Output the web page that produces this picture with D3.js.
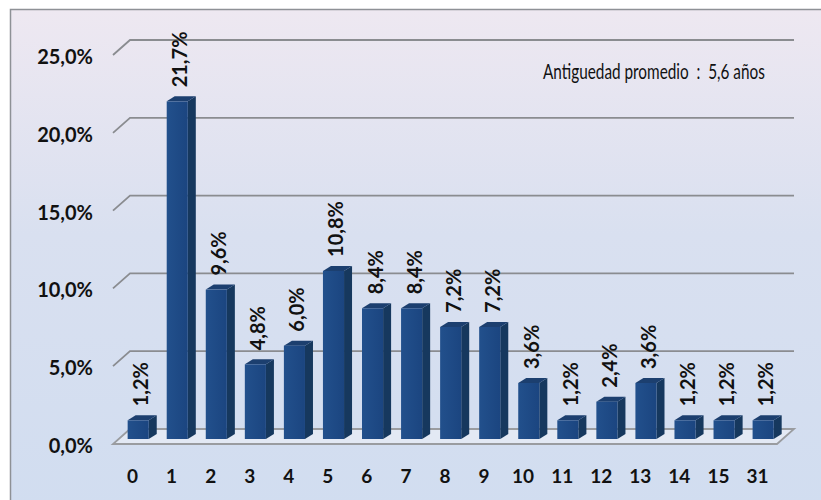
<!DOCTYPE html>
<html>
<head>
<meta charset="utf-8">
<script src="https://cdn.jsdelivr.net/npm/d3@7/dist/d3.min.js"></script>
<style>
  html, body { margin: 0; padding: 0; background: #ffffff; }
  svg { display: block; }
  text { font-family: Lato, "Open Sans", "Liberation Sans", sans-serif; fill: #111; }
</style>
</head>
<body>
<svg id="chart" width="821" height="500"></svg>
<script>
// Antigüedad (años) y porcentaje de casos
const categories = ["0","1","2","3","4","5","6","7","8","9","10","11","12","13","14","15","31"];
const values = [1.2, 21.7, 9.6, 4.8, 6.0, 10.8, 8.4, 8.4, 7.2, 7.2, 3.6, 1.2, 2.4, 3.6, 1.2, 1.2, 1.2];
const yTicks = [0, 5, 10, 15, 20, 25];
const note = "Antiguedad promedio  :  5,6 años";

const svg = d3.select("#chart");
const W = 821, H = 500;

// 3D projection: floor depth offset and bar depth offset
const depth = { dx: 17, dy: -15 };
const barDepth = { dx: 8, dy: -5 };
const barPlane = 1 / 3;          // bars sit one third back into the floor

const frontLeft = 113, frontRight = 777, frontBase = 444;

const x = d3.scaleBand().domain(categories).range([frontLeft, frontRight]).paddingInner(0.46).paddingOuter(0.23);
const h = d3.scaleLinear().domain([0, 25]).range([0, 389]);

const es = d3.formatLocale({ decimal: ",", thousands: ".", grouping: [3], currency: ["", "€"] });
const pct1 = v => es.format(".1f")(v) + "%";

// background panel
const defs = svg.append("defs");
const bg = defs.append("linearGradient").attr("id", "bg").attr("x1", 0).attr("y1", 0).attr("x2", 0).attr("y2", 1);
bg.append("stop").attr("offset", "0%").attr("stop-color", "#eee8f1");
bg.append("stop").attr("offset", "45%").attr("stop-color", "#d9e0f0");
bg.append("stop").attr("offset", "100%").attr("stop-color", "#d1ddf0");

const face = defs.append("linearGradient").attr("id", "face").attr("x1", 0).attr("y1", 0).attr("x2", 1).attr("y2", 0);
face.append("stop").attr("offset", "0%").attr("stop-color", "#22508c");
face.append("stop").attr("offset", "100%").attr("stop-color", "#1b4580");

svg.append("rect").attr("x", 0).attr("y", 0).attr("width", W).attr("height", H).attr("fill", "#ffffff");
svg.append("rect").attr("x", 10.5).attr("y", 9.5).attr("width", W).attr("height", H)
  .attr("fill", "url(#bg)").attr("stroke", "#8e9196").attr("stroke-width", 1.5);

// floor
const fb = frontBase;
svg.append("path")
  .attr("d", `M${frontLeft},${fb} L${frontRight},${fb} L${frontRight + depth.dx},${fb + depth.dy} L${frontLeft + depth.dx},${fb + depth.dy} Z`)
  .attr("fill", "#e3e9f4").attr("stroke", "#9a9ca0").attr("stroke-width", 1.8);

// gridlines on the back wall with the short slanted stub on the left wall
const grid = svg.append("g");
yTicks.filter(t => t > 0).forEach(t => {
  const yb = fb + depth.dy - h(t);
  grid.append("path")
    .attr("d", `M${frontLeft},${yb - depth.dy} L${frontLeft + depth.dx},${yb} L${frontRight + depth.dx},${yb}`)
    .attr("fill", "none").attr("stroke", "#8a8c90").attr("stroke-width", 1.8);
});

// y axis labels, placed on the front edge
const yAxisScale = d3.scaleLinear().domain([0, 25]).range([fb, fb - 389]);
const yAxis = svg.append("g").attr("transform", "translate(93,2)")
  .call(d3.axisLeft(yAxisScale).tickValues(yTicks).tickSize(0).tickPadding(0).tickFormat(pct1));
yAxis.select(".domain").remove();
yAxis.selectAll("text").attr("font-size", 20).attr("font-weight", "bold")
  .style("font-family", "Lato, sans-serif").attr("fill", "#111");

// x axis labels
const xAxis = svg.append("g").attr("transform", `translate(0,${fb + 25})`)
  .call(d3.axisBottom(x).tickSize(0).tickPadding(0));
xAxis.select(".domain").remove();
xAxis.selectAll("text").attr("font-size", 19).attr("font-weight", "bold")
  .style("font-family", "Lato, sans-serif").attr("fill", "#111").attr("dy", "0.71em");

// bars
const ox = depth.dx * barPlane, oy = depth.dy * barPlane;
const bars = svg.append("g").selectAll("g").data(categories.map((c, i) => ({ c, v: values[i] }))).join("g");
bars.each(function (d) {
  const g = d3.select(this);
  const x0 = x(d.c) + ox, x1 = x0 + x.bandwidth();
  const y0 = fb + oy, y1 = y0 - h(d.v);
  const bx = barDepth.dx, by = barDepth.dy;
  // side
  g.append("path").attr("d", `M${x1},${y0} L${x1 + bx},${y0 + by} L${x1 + bx},${y1 + by} L${x1},${y1} Z`)
    .attr("fill", "#16385e");
  // top
  g.append("path").attr("d", `M${x0},${y1} L${x0 + bx},${y1 + by} L${x1 + bx},${y1 + by} L${x1},${y1} Z`)
    .attr("fill", "#1c3f6f");
  // front
  g.append("rect").attr("x", x0).attr("y", y1).attr("width", x.bandwidth()).attr("height", y0 - y1)
    .attr("fill", "url(#face)");
  // value label
  const cx = x0 + x.bandwidth() / 2 + 3, ly = y1 + by - 9;
  g.append("text").attr("transform", `translate(${cx},${ly}) rotate(-90)`)
    .attr("dy", "0.35em").attr("text-anchor", "start")
    .attr("font-size", 20).attr("font-weight", "bold")
    .text(pct1(d.v));
});

// annotation, condensed horizontally to a narrow face
const noteG = svg.append("g");
const noteT = noteG.append("text").attr("x", 0).attr("y", 0).attr("font-size", 21.5)
  .style("white-space", "pre").text(note);
const noteW = noteT.node().getComputedTextLength();
const sx = Math.min(1, 222 / noteW);
noteG.attr("transform", `translate(543,79) scale(${sx},1)`);
</script>
</body>
</html>
